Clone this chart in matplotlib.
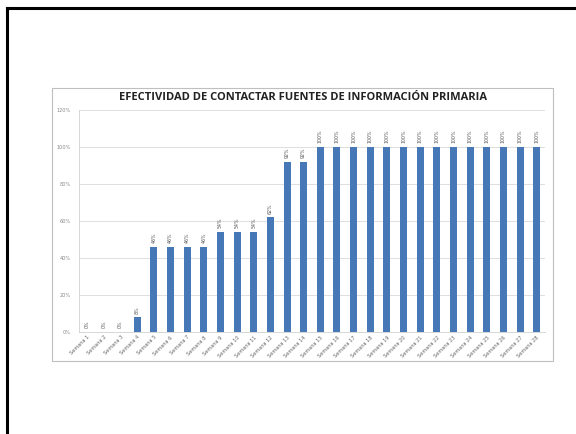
import matplotlib
matplotlib.use("Agg")
import matplotlib.pyplot as plt
from matplotlib.patches import Rectangle
from matplotlib.lines import Line2D
from matplotlib.ticker import FuncFormatter

categories = [f"Semana {i}" for i in range(1, 29)]
values = [0, 0, 0, 8, 46, 46, 46, 46, 54, 54, 54, 62, 92, 92,
          100, 100, 100, 100, 100, 100, 100, 100, 100, 100, 100, 100, 100, 100]
value_labels = [f"{v}%" for v in values]
yticks = [0, 20, 40, 60, 80, 100, 120]
title = "EFECTIVIDAD DE CONTACTAR FUENTES DE INFORMACIÓN PRIMARIA"

W, H = 576, 434
fig = plt.figure(figsize=(W / 100, H / 100), dpi=100)
fig.patch.set_facecolor("white")

# slide frame (top and left black lines)
fig.add_artist(Line2D([7 / W, 1.0], [1 - 8 / H, 1 - 8 / H], color="black", lw=2.2,
                      transform=fig.transFigure))
fig.add_artist(Line2D([7 / W, 7 / W], [0, 1 - 8 / H], color="black", lw=2.2,
                      transform=fig.transFigure))

# chart box
fig.add_artist(Rectangle((52 / W, 1 - 361 / H), (553 - 52) / W, (361 - 88) / H,
                         transform=fig.transFigure, fill=False, ec="#bfbfbf", lw=0.8))

ax = fig.add_axes([79 / W, 1 - 332 / H, (545 - 79) / W, (332 - 110) / H])
x = list(range(len(categories)))
bars = ax.bar(x, values, width=0.42, color="#4678b8", zorder=3)
ax.set_xlim(-0.5, len(categories) - 0.5)
ax.set_ylim(0, 120)
ax.set_yticks(yticks)
ax.yaxis.set_major_formatter(FuncFormatter(lambda v, p: f"{int(v)}%"))
ax.grid(axis="y", color="#d9d9d9", lw=0.6, zorder=0)
for s in ["top", "right"]:
    ax.spines[s].set_visible(False)
ax.spines["left"].set_color("#d0d0d0")
ax.spines["bottom"].set_color("#d0d0d0")
ax.spines["left"].set_linewidth(0.6)
ax.spines["bottom"].set_linewidth(0.6)
ax.tick_params(axis="y", labelsize=3.6, colors="#888888", length=0, pad=6)
ax.tick_params(axis="x", labelsize=3.6, colors="#666666", length=0, pad=2)
ax.set_xticks(x)
ax.set_xticklabels(categories, rotation=45, ha="right", rotation_mode="anchor")

for xi, v, lab in zip(x, values, value_labels):
    ax.text(xi, v + 2, lab, rotation=90, ha="center", va="bottom",
            fontsize=3.4, color="#555555")

fig.text(303 / W, 1 - 97 / H, title, ha="center", va="center",
         fontsize=8.0, fontweight="bold", color="#222222", family="Open Sans")

fig.savefig("out.png", dpi=100, facecolor="white")
